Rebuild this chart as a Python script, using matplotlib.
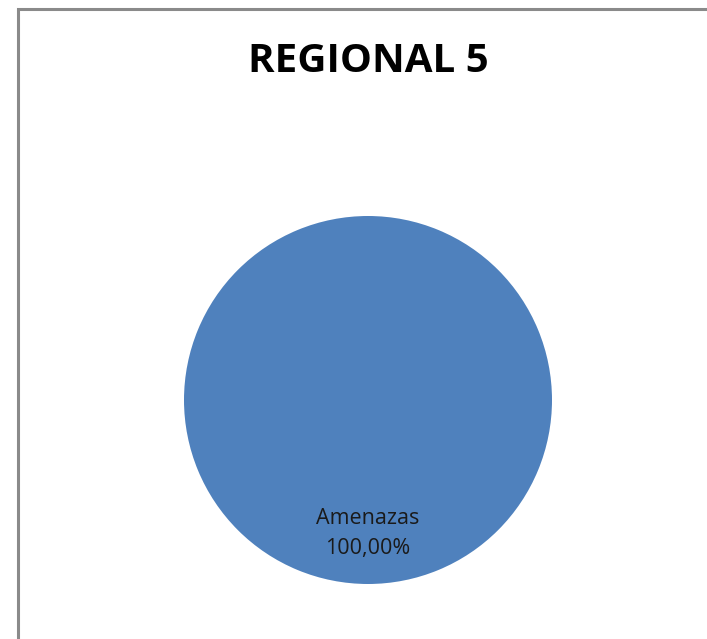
import matplotlib.pyplot as plt
from matplotlib.patches import Rectangle

# chart data
categories = ["Amenazas"]
values = [100.0]
colors = ["#4F81BD"]
title = "REGIONAL 5"

W, H, DPI = 707, 639, 100
fig = plt.figure(figsize=(W / DPI, H / DPI), dpi=DPI)
fig.patch.set_facecolor("white")

# chart-area frame (cut off at right and bottom like the source screenshot)
frame = Rectangle((17.5 / W, -0.1), 1.2, (H - 8.5) / H + 0.1,
                  transform=fig.transFigure, fill=False,
                  edgecolor="#8a8a8a", linewidth=2.2)
fig.patches.append(frame)

fig.text(368 / W, 1 - 62 / H, title, ha="center", va="center",
         fontsize=29, fontweight="bold", family=["Open Sans", "DejaVu Sans"])

# pie axes: centre (368, 400), radius 184 px
cx, cy, r = 368, 400, 184
ax = fig.add_axes([(cx - r) / W, (H - cy - r) / H, 2 * r / W, 2 * r / H])


def fmt(p):
    return "{}\n{}%".format(categories[0], f"{p:.2f}".replace(".", ","))


wedges, texts, autotexts = ax.pie(values, colors=colors, startangle=90,
                                  counterclock=False, radius=1,
                                  autopct=fmt, pctdistance=0.725,
                                  wedgeprops=dict(linewidth=0))
ax.set_xlim(-1, 1)
ax.set_ylim(-1, 1)
ax.axis("off")
for t in autotexts:
    t.set_family(["Open Sans", "DejaVu Sans"])
    t.set_fontsize(15.5)
    t.set_color("#1a1a1a")
    t.set_linespacing(1.6)

fig.savefig("out.png", dpi=DPI)
